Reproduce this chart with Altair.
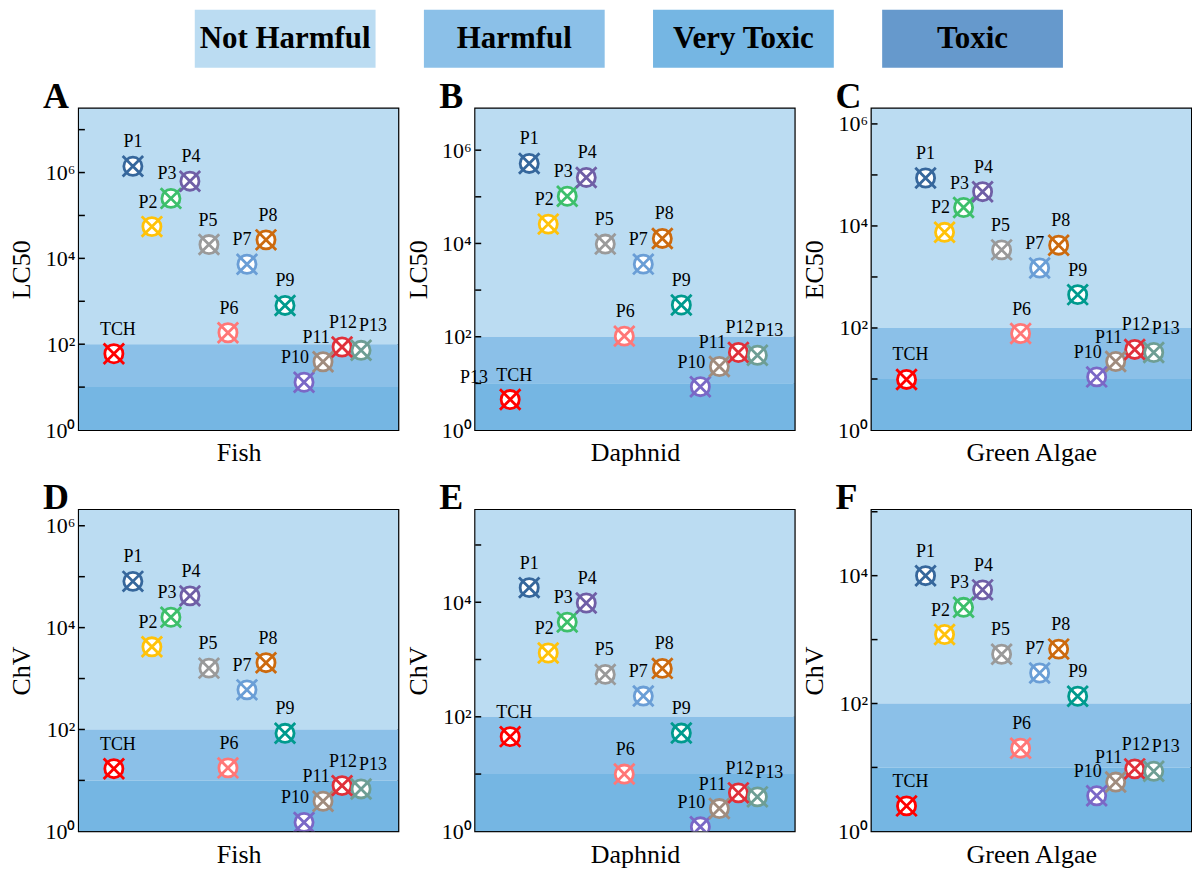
import altair as alt
import pandas as pd

FONT = "Liberation Serif"

# ---- categories ----
NAMES = ["TCH", "P1", "P2", "P3", "P4", "P5", "P6", "P7", "P8", "P9", "P10", "P11", "P12", "P13"]
XPOS = [0, 1, 2, 3, 4, 5, 6, 7, 8, 9, 10, 11, 12, 13]
COLORS = ["#FF0000", "#36679C", "#FFC20A", "#3DBF6B", "#6F5FA6", "#9A9A9A", "#FF7777",
          "#6A9ED6", "#CC6A0E", "#009A8E", "#7A68C6", "#A08C7E", "#E0303A", "#6E9E94"]

# ---- panel descriptors ----
PANELS = ["A", "B", "C", "D", "E", "F"]
ORGANISMS = ["Fish", "Daphnid", "Green Algae", "Fish", "Daphnid", "Green Algae"]
YTITLES = ["LC50", "LC50", "EC50", "ChV", "ChV", "ChV"]

# ---- series values ----
A_FISH_LC50 = [60, 1.4e6, 5.5e4, 2.5e5, 6.3e5, 2.1e4, 185, 7.3e3, 2.7e4, 800, 13, 39, 86, 72]
B_DAPHNID_LC50 = [4.5, 5.2e5, 2.6e4, 1.03e5, 2.6e5, 9.7e3, 103, 3.6e3, 1.28e4, 480, 8.5, 23, 46, 40]
C_ALGAE_EC50 = [9.8, 8.7e4, 7.5e3, 2.3e4, 4.7e4, 3.4e3, 78, 1.5e3, 4.2e3, 450, 11, 22, 38, 33]
D_FISH_CHV = [17, 8.1e4, 4.2e3, 1.6e4, 4.2e4, 1.6e3, 17.6, 600, 2.05e3, 84, 1.5, 3.9, 7.9, 6.8]
E_DAPHNID_CHV = [45, 1.8e4, 1.3e3, 4.5e3, 9.7e3, 550, 10, 230, 700, 52, 1.2, 2.5, 4.7, 4.0]
F_ALGAE_CHV = [2.5, 1.0e4, 1.2e3, 3.2e3, 6.0e3, 590, 20, 300, 710, 130, 3.6, 5.9, 9.5, 8.7]
SERIES = [A_FISH_LC50, B_DAPHNID_LC50, C_ALGAE_EC50, D_FISH_CHV, E_DAPHNID_CHV, F_ALGAE_CHV]

# ---- axes ----
Y_MAX = [3.1e7, 7.8e6, 2.0e6, 2.05e6, 4.1e5, 1.07e5]
Y_LABEL_VALUES = [[1, 1e2, 1e4, 1e6], [1, 1e2, 1e4, 1e6], [1, 1e2, 1e4, 1e6],
                  [1, 1e2, 1e4, 1e6], [1, 1e2, 1e4], [1, 1e2, 1e4]]
TICK_DECADES = [1e1, 1e2, 1e3, 1e4, 1e5, 1e6, 1e7]
X_DOMAIN = [-1.84, 14.96]

# ---- toxicity bands ----
BAND_NAMES = ["Not Harmful", "Harmful", "Very Toxic", "Toxic"]
BAND_LOW = [100, 10, 1, 0.01]
BAND_HIGH = [1e9, 100, 10, 1]
BAND_COLORS = ["#BBDCF2", "#8BC0E8", "#75B6E3", "#6699CC"]

# ---- label nudges (px) ----
LABEL_DX = [4, 0, -4, -4, 1, -1, 1, -5, 2, 0, -9, -7, 1, 12]

# stray annotation visible in panel B
EXTRA_PANEL = ["B"]
EXTRA_TEXT = ["P13"]
EXTRA_X = [-1.9]
EXTRA_Y = [10]

LABEL_EXPR = ("['10\u2070','10\u00b9','10\u00b2','10\u00b3','10\u2074','10\u2075','10\u2076','10\u2077']"
              "[round(log(datum.value)/LN10)]")

X_PATH = "M-1,-1L1,1M-1,1L1,-1"
PANEL_W = 320


def panel(i, height):
    df = pd.DataFrame({"name": NAMES, "x": XPOS, "v": SERIES[i], "dx": LABEL_DX})
    ymin, ymax = 1, Y_MAX[i]
    brows = []
    for n, lo, hi in zip(BAND_NAMES, BAND_LOW, BAND_HIGH):
        lo2, hi2 = max(lo, ymin), min(hi, ymax)
        if hi2 > lo2:
            brows.append({"band": n, "lo": lo2, "hi": hi2})
    bands = pd.DataFrame(brows)
    ticks = pd.DataFrame({"t": [t for t in TICK_DECADES if t < ymax * 0.97]})

    yscale = alt.Scale(type="log", domain=[ymin, ymax], nice=False)
    xscale = alt.Scale(domain=X_DOMAIN, nice=False, zero=False)
    yaxis = alt.Axis(values=Y_LABEL_VALUES[i], labelExpr=LABEL_EXPR, ticks=False, tickSize=0,
                     domain=False, grid=False, labelPadding=4, labelFont=FONT, labelFontSize=22,
                     labelColor="black", title=YTITLES[i], titleFont=FONT, titleFontSize=26,
                     titleFontWeight="normal", titleColor="black", titlePadding=10)
    xaxis = alt.Axis(labels=False, ticks=False, domain=False, grid=False, title=ORGANISMS[i],
                     titleFont=FONT, titleFontSize=26, titleFontWeight="normal",
                     titleColor="black", titlePadding=10)

    def X(f):
        return alt.X(f, type="quantitative", scale=xscale, axis=xaxis)

    def Y(f):
        return alt.Y(f, type="quantitative", scale=yscale, axis=yaxis)

    band_layer = alt.Chart(bands).mark_rect(clip=True).encode(
        y=Y("lo"), y2="hi:Q",
        color=alt.Color("band:N", scale=alt.Scale(domain=BAND_NAMES, range=BAND_COLORS), legend=None),
    )
    tick_layer = alt.Chart(ticks).mark_rule(color="black", strokeWidth=1.5).encode(
        y=Y("t"), x=alt.value(0), x2=alt.value(6)
    )
    layers = [band_layer, tick_layer]

    for d in sorted(set(LABEL_DX)):
        layers.append(
            alt.Chart(df).transform_filter(alt.datum.dx == d).mark_text(
                dx=d, dy=-19, baseline="alphabetic", align="center", font=FONT, fontSize=18, color="black"
            ).encode(x=X("x"), y=Y("v"), text="name:N")
        )

    ex = [(t, x, y) for p, t, x, y in zip(EXTRA_PANEL, EXTRA_TEXT, EXTRA_X, EXTRA_Y) if p == PANELS[i]]
    if ex:
        exdf = pd.DataFrame({"t": [e[0] for e in ex], "x": [e[1] for e in ex], "v": [e[2] for e in ex]})
        layers.append(
            alt.Chart(exdf).mark_text(baseline="alphabetic", align="center", font=FONT, fontSize=18,
                                      color="black").encode(x=X("x"), y=Y("v"), text="t:N")
        )

    stroke = alt.Stroke("name:N", scale=alt.Scale(domain=NAMES, range=COLORS), legend=None)
    layers.append(
        alt.Chart(df).mark_point(shape="circle", size=330, filled=False, fill="white", fillOpacity=1,
                                 strokeWidth=2.8, opacity=1, clip=True).encode(
            x=X("x"), y=Y("v"), stroke=stroke)
    )
    layers.append(
        alt.Chart(df).mark_point(shape=X_PATH, size=420, filled=False, strokeWidth=2.8, opacity=1,
                                 clip=True).encode(
            x=X("x"), y=Y("v"), stroke=stroke)
    )
    # panel letter
    layers.append(
        alt.Chart(pd.DataFrame({"letter": [PANELS[i]]})).mark_text(
            align="left", baseline="alphabetic", font=FONT, fontSize=36, fontWeight="bold", color="black"
        ).encode(x=alt.value(-36), y=alt.value(-1), text="letter:N")
    )

    return alt.layer(*layers).properties(width=PANEL_W, height=height)


# ---- legend row ----
legend_df = pd.DataFrame({"band": BAND_NAMES})
legend_x = alt.X("band:N", sort=BAND_NAMES, axis=None,
                 scale=alt.Scale(paddingInner=0.211, paddingOuter=0.528, align=0.479))
legend_rects = alt.Chart(legend_df).mark_rect().encode(
    x=legend_x,
    color=alt.Color("band:N", scale=alt.Scale(domain=BAND_NAMES, range=BAND_COLORS), legend=None),
)
legend_text = alt.Chart(legend_df).mark_text(font=FONT, fontSize=31, fontWeight="bold", color="black",
                                             baseline="middle").encode(
    x=legend_x, y=alt.value(29), text="band:N")
legend = alt.layer(legend_rects, legend_text).properties(
    width=1112, height=58, view=alt.ViewBackground(stroke="transparent"))

row1 = alt.hconcat(panel(0, 322), panel(1, 322), panel(2, 322), spacing=5)
row2 = alt.hconcat(panel(3, 322), panel(4, 322), panel(5, 322), spacing=5)

chart = alt.vconcat(legend, alt.vconcat(row1, row2, spacing=12), spacing=9).properties(
    padding=0, background="white"
).configure_view(stroke="black", strokeWidth=2)

chart.save("out.html", embed_options={"renderer": "svg", "actions": False})
